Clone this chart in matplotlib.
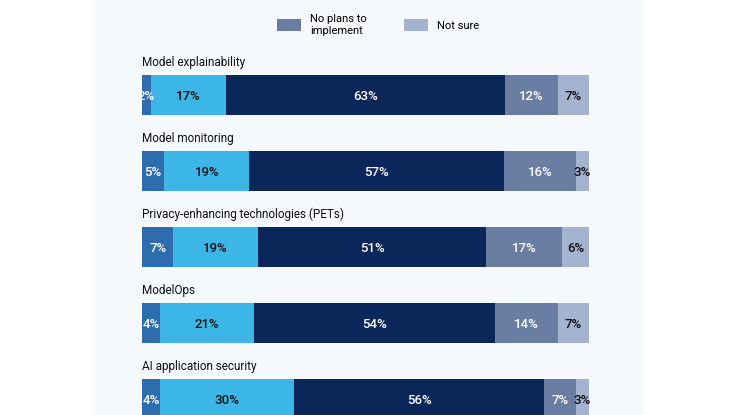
import numpy as np
import matplotlib
matplotlib.use('Agg')
from matplotlib import pyplot as plt
from matplotlib.patches import Rectangle, Patch

categories = ['Model explainability', 'Model monitoring',
              'Privacy-enhancing technologies (PETs)', 'ModelOps',
              'AI application security']
series = ['Already implemented', 'Implementing now',
          'Planning to implement', 'No plans to\nimplement', 'Not sure']
implemented = [2, 5, 7, 4, 4]
implementing = [17, 19, 19, 21, 30]
planning = [63, 57, 51, 54, 56]
no_plans = [12, 16, 17, 14, 7]
not_sure = [7, 3, 6, 7, 3]

colors = ['#2d6dad', '#3cb6e7', '#0b2658', '#6a7ea3', '#a3b3d0']
text_colors = ['white', '#111111', 'white', 'white', '#111111']

plt.rcParams['font.family'] = ['Roboto', 'DejaVu Sans']

fig = plt.figure(figsize=(7.37, 4.15), dpi=100)
fig.patches.append(Rectangle((95 / 737, 0), 548 / 737, 1, transform=fig.transFigure,
                             facecolor='#f5f9fb', edgecolor='none', zorder=-1))

ax = fig.add_axes([142 / 737, 0, 447 / 737, 1])
ax.set_facecolor('none')

values = [implemented, implementing, planning, no_plans, not_sure]
data = np.array(values, dtype=float)
data = data / data.sum(axis=0) * 100  # rows add to 101 in places
y = np.arange(len(categories))
left = np.zeros(len(categories))
for i, name in enumerate(series):
    ax.barh(y, data[i], left=left, height=0.53, color=colors[i], label=name)
    for j in range(len(categories)):
        ax.text(left[j] + data[i][j] / 2, y[j] + 0.02, '{}%'.format(values[i][j]),
                ha='center', va='center', fontsize=9.5, fontweight='medium',
                color=text_colors[i])
    left += data[i]

for j, cat in enumerate(categories):
    ax.text(0, y[j] - 0.43, cat, ha='left', va='center', fontsize=8.5, color='#111111')

ax.set_xlim(0, 100)
ax.set_ylim(4.21, -1.25)
ax.axis('off')

handles = [Patch(facecolor=colors[3]), Patch(facecolor=colors[4])]
fig.legend(handles, [series[3], series[4]], loc='center', bbox_to_anchor=(0.513, 0.94),
           ncol=2, frameon=False, fontsize=8, handlelength=2.2, handleheight=1.2,
           columnspacing=3.3, handletextpad=0.8)

fig.savefig('out.png', dpi=100)
